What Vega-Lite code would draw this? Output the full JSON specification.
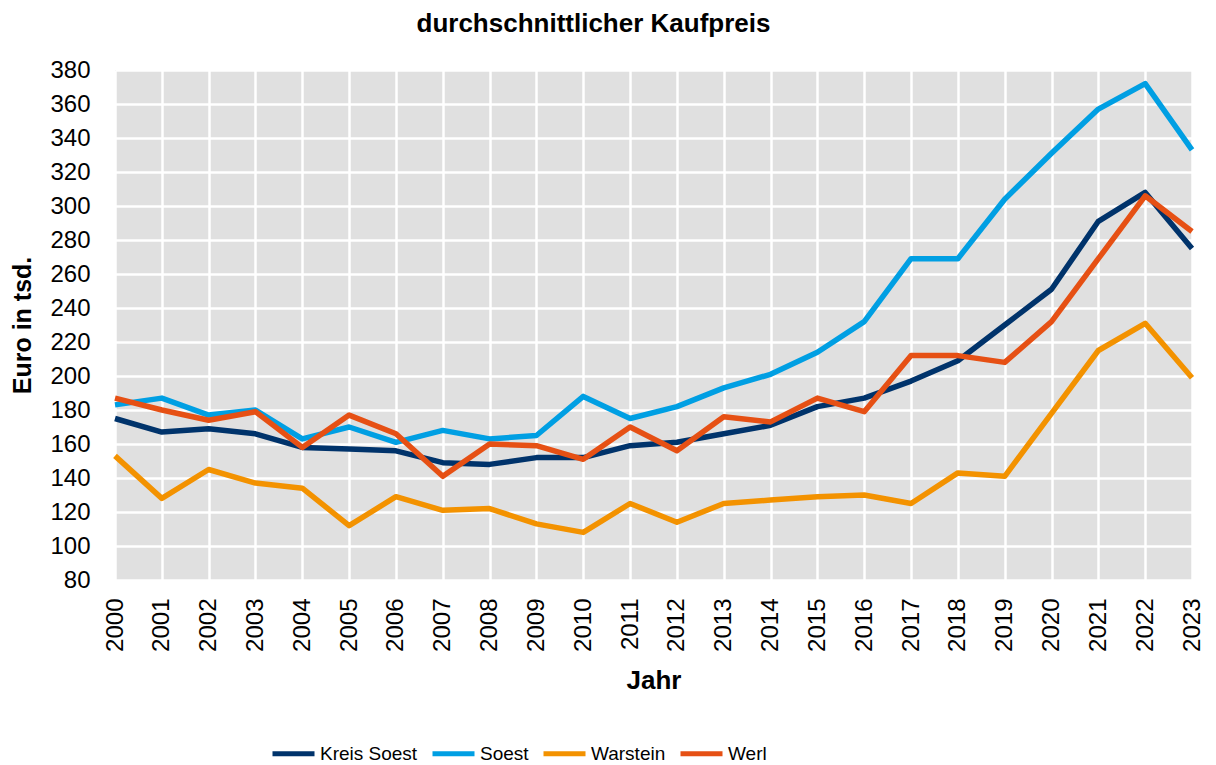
{
  "$schema": "https://vega.github.io/schema/vega-lite/v6.json",
  "width": 1077,
  "height": 510,
  "autosize": {"type": "none"},
  "padding": {"left": 115, "top": 70, "right": 24, "bottom": 185},
  "background": "white",
  "title": {
    "text": "durchschnittlicher Kaufpreis",
    "font": "Liberation Sans",
    "fontSize": 26,
    "fontWeight": "bold",
    "color": "black",
    "anchor": "middle",
    "dx": -60,
    "offset": 21
  },
  "config": {
    "view": {"fill": "#e0e0e0", "stroke": null},
    "font": "Liberation Sans"
  },
  "data": {
    "values": [
      {"year": "2000", "region": "Kreis Soest", "value": 175},
      {"year": "2001", "region": "Kreis Soest", "value": 167},
      {"year": "2002", "region": "Kreis Soest", "value": 169},
      {"year": "2003", "region": "Kreis Soest", "value": 166},
      {"year": "2004", "region": "Kreis Soest", "value": 158},
      {"year": "2005", "region": "Kreis Soest", "value": 157},
      {"year": "2006", "region": "Kreis Soest", "value": 156},
      {"year": "2007", "region": "Kreis Soest", "value": 149},
      {"year": "2008", "region": "Kreis Soest", "value": 148},
      {"year": "2009", "region": "Kreis Soest", "value": 152},
      {"year": "2010", "region": "Kreis Soest", "value": 152},
      {"year": "2011", "region": "Kreis Soest", "value": 159},
      {"year": "2012", "region": "Kreis Soest", "value": 161},
      {"year": "2013", "region": "Kreis Soest", "value": 166},
      {"year": "2014", "region": "Kreis Soest", "value": 171},
      {"year": "2015", "region": "Kreis Soest", "value": 182},
      {"year": "2016", "region": "Kreis Soest", "value": 187},
      {"year": "2017", "region": "Kreis Soest", "value": 197},
      {"year": "2018", "region": "Kreis Soest", "value": 209},
      {"year": "2019", "region": "Kreis Soest", "value": 230},
      {"year": "2020", "region": "Kreis Soest", "value": 251},
      {"year": "2021", "region": "Kreis Soest", "value": 291},
      {"year": "2022", "region": "Kreis Soest", "value": 308},
      {"year": "2023", "region": "Kreis Soest", "value": 275},
      {"year": "2000", "region": "Soest", "value": 183},
      {"year": "2001", "region": "Soest", "value": 187},
      {"year": "2002", "region": "Soest", "value": 177},
      {"year": "2003", "region": "Soest", "value": 180},
      {"year": "2004", "region": "Soest", "value": 163},
      {"year": "2005", "region": "Soest", "value": 170},
      {"year": "2006", "region": "Soest", "value": 161},
      {"year": "2007", "region": "Soest", "value": 168},
      {"year": "2008", "region": "Soest", "value": 163},
      {"year": "2009", "region": "Soest", "value": 165},
      {"year": "2010", "region": "Soest", "value": 188},
      {"year": "2011", "region": "Soest", "value": 175},
      {"year": "2012", "region": "Soest", "value": 182},
      {"year": "2013", "region": "Soest", "value": 193},
      {"year": "2014", "region": "Soest", "value": 201},
      {"year": "2015", "region": "Soest", "value": 214},
      {"year": "2016", "region": "Soest", "value": 232},
      {"year": "2017", "region": "Soest", "value": 269},
      {"year": "2018", "region": "Soest", "value": 269},
      {"year": "2019", "region": "Soest", "value": 304},
      {"year": "2020", "region": "Soest", "value": 331},
      {"year": "2021", "region": "Soest", "value": 357},
      {"year": "2022", "region": "Soest", "value": 372},
      {"year": "2023", "region": "Soest", "value": 333},
      {"year": "2000", "region": "Warstein", "value": 153},
      {"year": "2001", "region": "Warstein", "value": 128},
      {"year": "2002", "region": "Warstein", "value": 145},
      {"year": "2003", "region": "Warstein", "value": 137},
      {"year": "2004", "region": "Warstein", "value": 134},
      {"year": "2005", "region": "Warstein", "value": 112},
      {"year": "2006", "region": "Warstein", "value": 129},
      {"year": "2007", "region": "Warstein", "value": 121},
      {"year": "2008", "region": "Warstein", "value": 122},
      {"year": "2009", "region": "Warstein", "value": 113},
      {"year": "2010", "region": "Warstein", "value": 108},
      {"year": "2011", "region": "Warstein", "value": 125},
      {"year": "2012", "region": "Warstein", "value": 114},
      {"year": "2013", "region": "Warstein", "value": 125},
      {"year": "2014", "region": "Warstein", "value": 127},
      {"year": "2015", "region": "Warstein", "value": 129},
      {"year": "2016", "region": "Warstein", "value": 130},
      {"year": "2017", "region": "Warstein", "value": 125},
      {"year": "2018", "region": "Warstein", "value": 143},
      {"year": "2019", "region": "Warstein", "value": 141},
      {"year": "2020", "region": "Warstein", "value": 178},
      {"year": "2021", "region": "Warstein", "value": 215},
      {"year": "2022", "region": "Warstein", "value": 231},
      {"year": "2023", "region": "Warstein", "value": 199},
      {"year": "2000", "region": "Werl", "value": 187},
      {"year": "2001", "region": "Werl", "value": 180},
      {"year": "2002", "region": "Werl", "value": 174},
      {"year": "2003", "region": "Werl", "value": 179},
      {"year": "2004", "region": "Werl", "value": 158},
      {"year": "2005", "region": "Werl", "value": 177},
      {"year": "2006", "region": "Werl", "value": 166},
      {"year": "2007", "region": "Werl", "value": 141},
      {"year": "2008", "region": "Werl", "value": 160},
      {"year": "2009", "region": "Werl", "value": 159},
      {"year": "2010", "region": "Werl", "value": 151},
      {"year": "2011", "region": "Werl", "value": 170},
      {"year": "2012", "region": "Werl", "value": 156},
      {"year": "2013", "region": "Werl", "value": 176},
      {"year": "2014", "region": "Werl", "value": 173},
      {"year": "2015", "region": "Werl", "value": 187},
      {"year": "2016", "region": "Werl", "value": 179},
      {"year": "2017", "region": "Werl", "value": 212},
      {"year": "2018", "region": "Werl", "value": 212},
      {"year": "2019", "region": "Werl", "value": 208},
      {"year": "2020", "region": "Werl", "value": 232},
      {"year": "2021", "region": "Werl", "value": 269},
      {"year": "2022", "region": "Werl", "value": 306},
      {"year": "2023", "region": "Werl", "value": 285}
    ]
  },
  "mark": {"type": "line", "strokeWidth": 5.5, "strokeJoin": "round", "strokeCap": "butt"},
  "encoding": {
    "x": {
      "field": "year",
      "type": "ordinal",
      "scale": {"type": "point", "padding": 0},
      "axis": {
        "title": "Jahr",
        "titleFont": "Liberation Sans",
        "titleFontSize": 26,
        "titleFontWeight": "bold",
        "titleColor": "black",
        "titlePadding": 16,
        "labelAngle": -90,
        "labelFont": "Liberation Sans",
        "labelFontSize": 24,
        "labelColor": "black",
        "labelPadding": 18,
        "ticks": false,
        "tickSize": 0,
        "domain": false,
        "grid": true,
        "gridColor": "white",
        "gridWidth": 2.5,
        "gridOpacity": 1
      }
    },
    "y": {
      "field": "value",
      "type": "quantitative",
      "scale": {"domain": [80, 380], "nice": false, "zero": false},
      "axis": {
        "title": "Euro in tsd.",
        "titleFont": "Liberation Sans",
        "titleFontSize": 25,
        "titleFontWeight": "bold",
        "titleColor": "black",
        "titlePadding": 14,
        "values": [80, 100, 120, 140, 160, 180, 200, 220, 240, 260, 280, 300, 320, 340, 360, 380],
        "labelFont": "Liberation Sans",
        "labelFontSize": 24,
        "labelColor": "black",
        "labelPadding": 25,
        "ticks": false,
        "tickSize": 0,
        "domain": false,
        "grid": true,
        "gridColor": "white",
        "gridWidth": 2.5,
        "gridOpacity": 1
      }
    },
    "color": {
      "field": "region",
      "type": "nominal",
      "scale": {
        "domain": ["Kreis Soest", "Soest", "Warstein", "Werl"],
        "range": ["#00336b", "#009fe3", "#f39200", "#e65014"]
      },
      "legend": {
        "title": null,
        "orient": "none",
        "direction": "horizontal",
        "legendX": 155,
        "legendY": 660,
        "symbolType": "stroke",
        "symbolSize": 1764,
        "symbolStrokeWidth": 5,
        "labelFont": "Liberation Sans",
        "labelFontSize": 19,
        "labelColor": "black",
        "labelOffset": 3,
        "columnPadding": 4
      }
    }
  }
}
